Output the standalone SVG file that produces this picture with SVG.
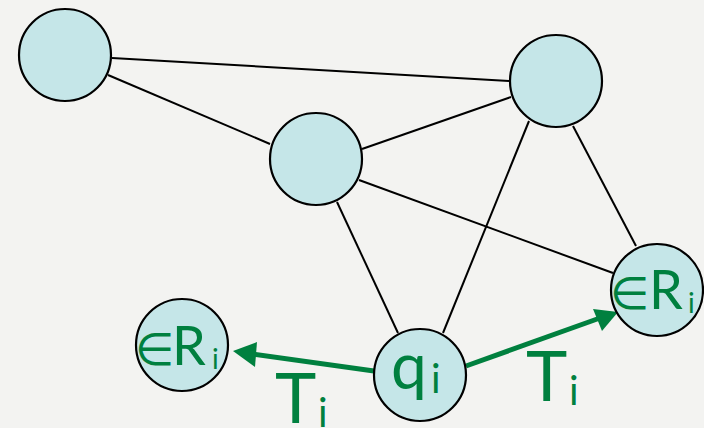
<svg xmlns="http://www.w3.org/2000/svg" width="704" height="428" viewBox="0 0 704 428">
<defs>
<style>
.edge{stroke:#000;stroke-width:2;fill:none}
.node{fill:#c5e6e8;stroke:#000;stroke-width:2.2}
.arrow{stroke:#00803f;stroke-width:5;fill:none}
.lbl{fill:#00803f;font-family:Lato,"Open Sans","DejaVu Sans",sans-serif}
.el{font-size:45px}
</style>
</defs>
<rect width="704" height="428" fill="#f3f3f1"/>
<g id="connectors">
<line class="edge" x1="112" y1="58" x2="509" y2="81"/>
<line class="edge" x1="108" y1="75" x2="270" y2="144"/>
<line class="edge" x1="362" y1="149" x2="511" y2="97"/>
<line class="edge" x1="359" y1="180" x2="613" y2="273"/>
<line class="edge" x1="573" y1="126" x2="636" y2="246"/>
<line class="edge" x1="529" y1="121" x2="443" y2="333"/>
<line class="edge" x1="337" y1="202" x2="398" y2="333"/>
<line class="arrow" x1="374" y1="371" x2="252" y2="354"/>
<polygon fill="#00803f" points="233,351 257,342 255,367"/>
<line class="arrow" x1="466" y1="366" x2="600" y2="318"/>
<polygon fill="#00803f" points="618,312 593,309 602,331"/>
</g>
<g id="nodeA"><circle class="node" cx="65" cy="55" r="46"/></g>
<g id="nodeB"><circle class="node" cx="556" cy="81" r="46"/></g>
<g id="nodeC"><circle class="node" cx="316" cy="159" r="46"/></g>
<g id="nodeD"><circle class="node" cx="657" cy="290" r="46"/>
<text class="lbl" x="610" y="309" font-size="54"><tspan class="el">∈</tspan><tspan x="649">R</tspan><tspan x="688" y="313" font-size="28">i</tspan></text></g>
<g id="nodeE"><circle class="node" cx="182" cy="345" r="46"/>
<text class="lbl" x="135" y="365" font-size="54"><tspan class="el">∈</tspan><tspan x="172">R</tspan><tspan x="212" y="369" font-size="28">i</tspan></text></g>
<g id="nodeQ"><circle class="node" cx="420" cy="375" r="46"/>
<text class="lbl" x="391" y="389" font-size="64">q<tspan x="431" y="393" font-size="40">i</tspan></text></g>
<text class="lbl" x="275" y="423" font-size="70">T<tspan x="318" y="427" font-size="40">i</tspan></text>
<text class="lbl" x="526" y="401" font-size="70">T<tspan x="569" y="405" font-size="40">i</tspan></text>
</svg>
